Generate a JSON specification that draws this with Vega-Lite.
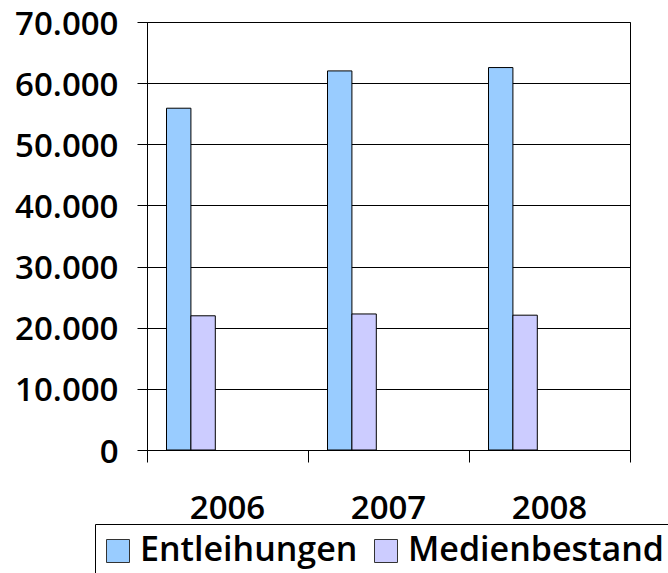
{
  "$schema": "https://vega.github.io/schema/vega-lite/v6.json",
  "width": 483,
  "height": 428,
  "autosize": {"type": "none"},
  "padding": {"left": 147, "top": 22, "right": 38, "bottom": 123},
  "background": "white",
  "data": {
    "values": [
      {"Jahr": "2006", "Serie": "Entleihungen", "Wert": 55900},
      {"Jahr": "2006", "Serie": "Medienbestand", "Wert": 21950},
      {"Jahr": "2007", "Serie": "Entleihungen", "Wert": 62000},
      {"Jahr": "2007", "Serie": "Medienbestand", "Wert": 22250},
      {"Jahr": "2008", "Serie": "Entleihungen", "Wert": 62550},
      {"Jahr": "2008", "Serie": "Medienbestand", "Wert": 22050}
    ]
  },
  "mark": {"type": "bar", "stroke": "black", "strokeWidth": 1},
  "encoding": {
    "x": {
      "field": "Jahr",
      "type": "nominal",
      "scale": {"paddingInner": 0, "paddingOuter": 0},
      "axis": {
        "title": null,
        "labelAngle": 0,
        "bandPosition": 1,
        "tickExtra": true,
        "tickSize": 12,
        "tickColor": "black",
        "domainColor": "black",
        "labelPadding": 56,
        "labelBaseline": "alphabetic",
        "labelFont": "Open Sans",
        "labelFontSize": 33,
        "labelFontWeight": 600,
        "labelColor": "black",
        "grid": false
      }
    },
    "xOffset": {
      "field": "Serie",
      "type": "nominal",
      "scale": {"domain": ["Entleihungen", "Medienbestand", "s3", "s4", "s5"], "paddingOuter": 0.8, "paddingInner": 0}
    },
    "y": {
      "field": "Wert",
      "type": "quantitative",
      "scale": {"domain": [0, 70000]},
      "axis": {
        "title": null,
        "values": [0, 10000, 20000, 30000, 40000, 50000, 60000, 70000],
        "labelExpr": "replace(format(datum.value, ','), ',', '.')",
        "tickSize": 10,
        "tickColor": "black",
        "domainColor": "black",
        "gridColor": "black",
        "gridOpacity": 1,
        "labelPadding": 19,
        "labelOffset": 2,
        "labelFont": "Open Sans",
        "labelFontSize": 33,
        "labelFontWeight": 600,
        "labelColor": "black"
      }
    },
    "color": {
      "field": "Serie",
      "type": "nominal",
      "scale": {"domain": ["Entleihungen", "Medienbestand"], "range": ["#99CCFF", "#CCCCFF"]},
      "legend": {
        "title": null,
        "orient": "none",
        "legendX": -52,
        "legendY": 502,
        "direction": "horizontal",
        "strokeColor": "black",
        "fillColor": "white",
        "padding": 10,
        "symbolType": "square",
        "symbolSize": 529,
        "symbolOffset": -4,
        "symbolStrokeColor": "#333",
        "symbolStrokeWidth": 1,
        "symbolOpacity": 1,
        "labelFont": "Open Sans",
        "labelFontSize": 34,
        "labelFontWeight": 600,
        "labelColor": "black",
        "labelOffset": 5,
        "columnPadding": 14,
        "labelLimit": 0
      }
    }
  },
  "config": {
    "view": {"stroke": "black", "strokeWidth": 1},
    "font": "Open Sans"
  }
}
